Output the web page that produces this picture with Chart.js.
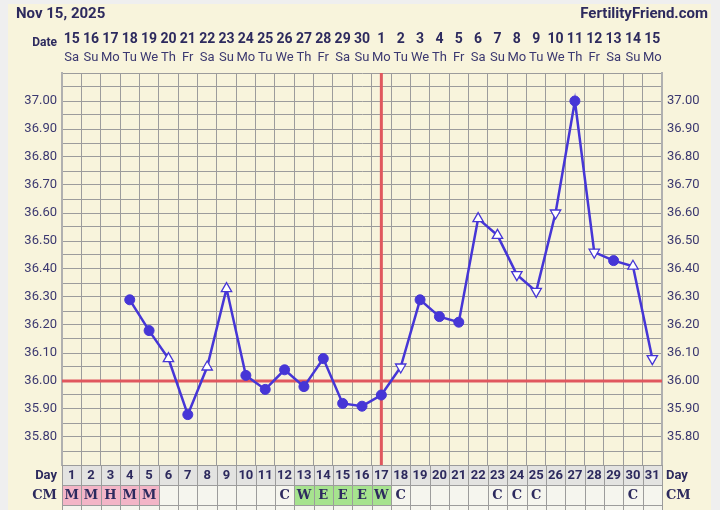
<!DOCTYPE html>
<html>
<head>
<meta charset="utf-8">
<script src="https://cdn.jsdelivr.net/npm/chart.js@4"></script>
<style>
  body { margin: 0; background: #efefef; }
  canvas { display: block; }
</style>
</head>
<body>
<canvas id="bbtChart" width="720" height="510"></canvas>
<script>
// cycle days and the calendar dates above them
const cycleDays = [1, 2, 3, 4, 5, 6, 7, 8, 9, 10, 11, 12, 13, 14, 15, 16, 17, 18, 19, 20, 21, 22, 23, 24, 25, 26, 27, 28, 29, 30, 31];
const dates = ["15", "16", "17", "18", "19", "20", "21", "22", "23", "24", "25", "26", "27", "28", "29", "30",
  "1", "2", "3", "4", "5", "6", "7", "8", "9", "10", "11", "12", "13", "14", "15"];
const weekdays = ["Sa", "Su", "Mo", "Tu", "We", "Th", "Fr", "Sa", "Su", "Mo", "Tu", "We", "Th", "Fr", "Sa", "Su",
  "Mo", "Tu", "We", "Th", "Fr", "Sa", "Su", "Mo", "Tu", "We", "Th", "Fr", "Sa", "Su", "Mo"];

// temperatures (null = no reading)
const temps = [null, null, null, 36.29, 36.18, 36.08, 35.88, 36.05, 36.33, 36.02, 35.97, 36.04, 35.98, 36.08, 35.92,
  35.91, 35.95, 36.05, 36.29, 36.23, 36.21, 36.58, 36.52, 36.38, 36.32, 36.60, 37.00, 36.46, 36.43, 36.41, 36.08];
// reading type: dot = normal, up / down = open triangle
const markers = [null, null, null, "dot", "dot", "up", "dot", "up", "up", "dot", "dot", "dot", "dot", "dot", "dot",
  "dot", "dot", "down", "dot", "dot", "dot", "up", "up", "down", "down", "down", "dot", "down", "dot", "up", "down"];
// cervical mucus row
const cm = ["M", "M", "H", "M", "M", "", "", "", "", "", "", "C", "W", "E", "E", "E", "W", "C", "", "", "", "",
  "C", "C", "C", "", "", "", "", "C", ""];

const coverline = 36.0;
const ovulationDay = 17;

const yTicks = { min: 35.7, max: 37.1, step: 0.05 };

const navy = "#2d2a5e";
const lineBlue = "#4636d6";
const red = "#e0575e";
const gridGray = "#9c9c9c";

Chart.defaults.font.family = "Roboto";

const tickLabel = (v) => {
  const c = Math.round(v * 100);
  return c % 10 === 0 && c >= 3580 && c <= 3700 ? (c / 100).toFixed(2) : "";
};

const bbtPlugin = {
  id: "bbtPlugin",
  beforeDraw(chart) {
    const ctx = chart.ctx;
    ctx.save();
    ctx.fillStyle = "#efefef";
    ctx.fillRect(0, 0, chart.width, chart.height);
    ctx.fillStyle = "#f8f4dc";
    ctx.fillRect(8, 4, 703, chart.height - 4);
    ctx.restore();
  },
  beforeDatasetsDraw(chart) {
    const { ctx, chartArea, scales } = chart;
    const x = scales.x, y = scales.y;
    ctx.save();
    ctx.strokeStyle = red;
    ctx.lineWidth = 3;
    const cy = y.getPixelForValue(coverline);
    ctx.beginPath();
    ctx.moveTo(chartArea.left, cy);
    ctx.lineTo(chartArea.right, cy);
    ctx.stroke();
    const ox = x.getPixelForValue(cycleDays.indexOf(ovulationDay));
    ctx.beginPath();
    ctx.moveTo(ox, chartArea.top);
    ctx.lineTo(ox, chartArea.bottom);
    ctx.stroke();
    ctx.restore();
  },
  afterDraw(chart) {
    const { ctx, chartArea, scales } = chart;
    const x = scales.x;
    const w = (chartArea.right - chartArea.left) / cycleDays.length;
    ctx.save();
    ctx.textBaseline = "middle";

    // header
    ctx.fillStyle = navy;
    ctx.font = "bold 15px Roboto";
    ctx.textAlign = "left";
    ctx.fillText("Nov 15, 2025", 16, 14);
    ctx.textAlign = "right";
    ctx.fillText("FertilityFriend.com", 708, 14);
    ctx.font = "bold 12px Roboto";
    ctx.fillText("Date", 57, 43);

    ctx.textAlign = "center";
    dates.forEach((d, i) => {
      const cx = x.getPixelForValue(i);
      ctx.fillStyle = navy;
      ctx.font = "bold 14px Roboto";
      ctx.fillText(d, cx, 39);
      ctx.fillStyle = "#3b3870";
      ctx.font = "13px Roboto";
      ctx.fillText(weekdays[i], cx, 58);
    });

    // day + CM rows
    const dayTop = chartArea.bottom;
    const cmTop = dayTop + 20;
    const extraTop = cmTop + 20;
    ctx.strokeStyle = gridGray;
    ctx.lineWidth = 1;
    cycleDays.forEach((d, i) => {
      const left = Math.round(chartArea.left + i * w) + 0.5;
      const right = Math.round(chartArea.left + (i + 1) * w) + 0.5;
      ctx.fillStyle = "#e3e3e1";
      ctx.fillRect(left, dayTop, right - left, 20);
      ctx.strokeRect(left, dayTop + 0.5, right - left, 20);
      const c = cm[i];
      ctx.fillStyle = c === "M" || c === "H" ? "#f3b5c7" : (c === "W" || c === "E" ? "#a6e38e" : "#f5f5ee");
      ctx.fillRect(left, cmTop, right - left, 20);
      ctx.strokeRect(left, cmTop + 0.5, right - left, 20);
      ctx.fillStyle = "#f5f5ee";
      ctx.fillRect(left, extraTop, right - left, 10);
      ctx.strokeRect(left, extraTop + 0.5, right - left, 10);

      const cx = x.getPixelForValue(i);
      ctx.fillStyle = navy;
      ctx.font = "bold 13px Roboto";
      ctx.fillText(String(d), cx, dayTop + 10.5);
      if (c) {
        ctx.font = "bold 13px 'DejaVu Serif'";
        ctx.fillText(c, cx, cmTop + 10.5);
      }
    });

    ctx.fillStyle = navy;
    ctx.font = "bold 13px Roboto";
    ctx.textAlign = "right";
    ctx.fillText("Day", 57, dayTop + 10.5);
    ctx.textAlign = "left";
    ctx.fillText("Day", 666, dayTop + 10.5);
    ctx.font = "bold 13px 'DejaVu Serif'";
    ctx.textAlign = "right";
    ctx.fillText("CM", 57, cmTop + 10.5);
    ctx.textAlign = "left";
    ctx.fillText("CM", 666, cmTop + 10.5);
    ctx.restore();
  },
};

const yAxisBase = {
  type: "linear",
  min: yTicks.min,
  max: yTicks.max,
  ticks: {
    stepSize: yTicks.step,
    autoSkip: false,
    padding: 5,
    color: "#3b3870",
    font: { size: 13 },
    callback: tickLabel,
  },
};

new Chart(document.getElementById("bbtChart"), {
  type: "line",
  data: {
    labels: cycleDays,
    datasets: [
      {
        data: temps,
        yAxisID: "y",
        borderColor: lineBlue,
        borderWidth: 2.5,
        tension: 0,
        pointStyle: markers.map((m) => (m === "dot" ? "circle" : "triangle")),
        rotation: markers.map((m) => (m === "down" ? 180 : 0)),
        pointRadius: markers.map((m) => (m === "dot" ? 5 : 6)),
        pointBorderWidth: markers.map((m) => (m === "dot" ? 1 : 1.3)),
        pointBackgroundColor: markers.map((m) => (m === "dot" ? lineBlue : "#ffffff")),
        pointBorderColor: lineBlue,
      },
    ],
  },
  options: {
    responsive: false,
    animation: false,
    layout: { padding: { top: 73, bottom: 45, left: 0, right: 0 } },
    plugins: { legend: { display: false }, tooltip: { enabled: false } },
    scales: {
      x: {
        type: "category",
        offset: true,
        grid: { offset: true, color: gridGray, drawTicks: false },
        border: { color: gridGray },
        ticks: { display: false, autoSkip: false },
        afterFit: (s) => { s.height = 0; },
      },
      y: {
        ...yAxisBase,
        position: "left",
        grid: { color: gridGray, drawTicks: false },
        border: { color: "#b0b0b0", width: 2 },
        afterFit: (s) => { s.width = 62; },
      },
      y2: {
        ...yAxisBase,
        position: "right",
        grid: { display: false, drawTicks: false },
        border: { color: "#b0b0b0", width: 2 },
        afterFit: (s) => { s.width = 58; },
      },
    },
  },
  plugins: [bbtPlugin],
});
</script>
</body>
</html>
